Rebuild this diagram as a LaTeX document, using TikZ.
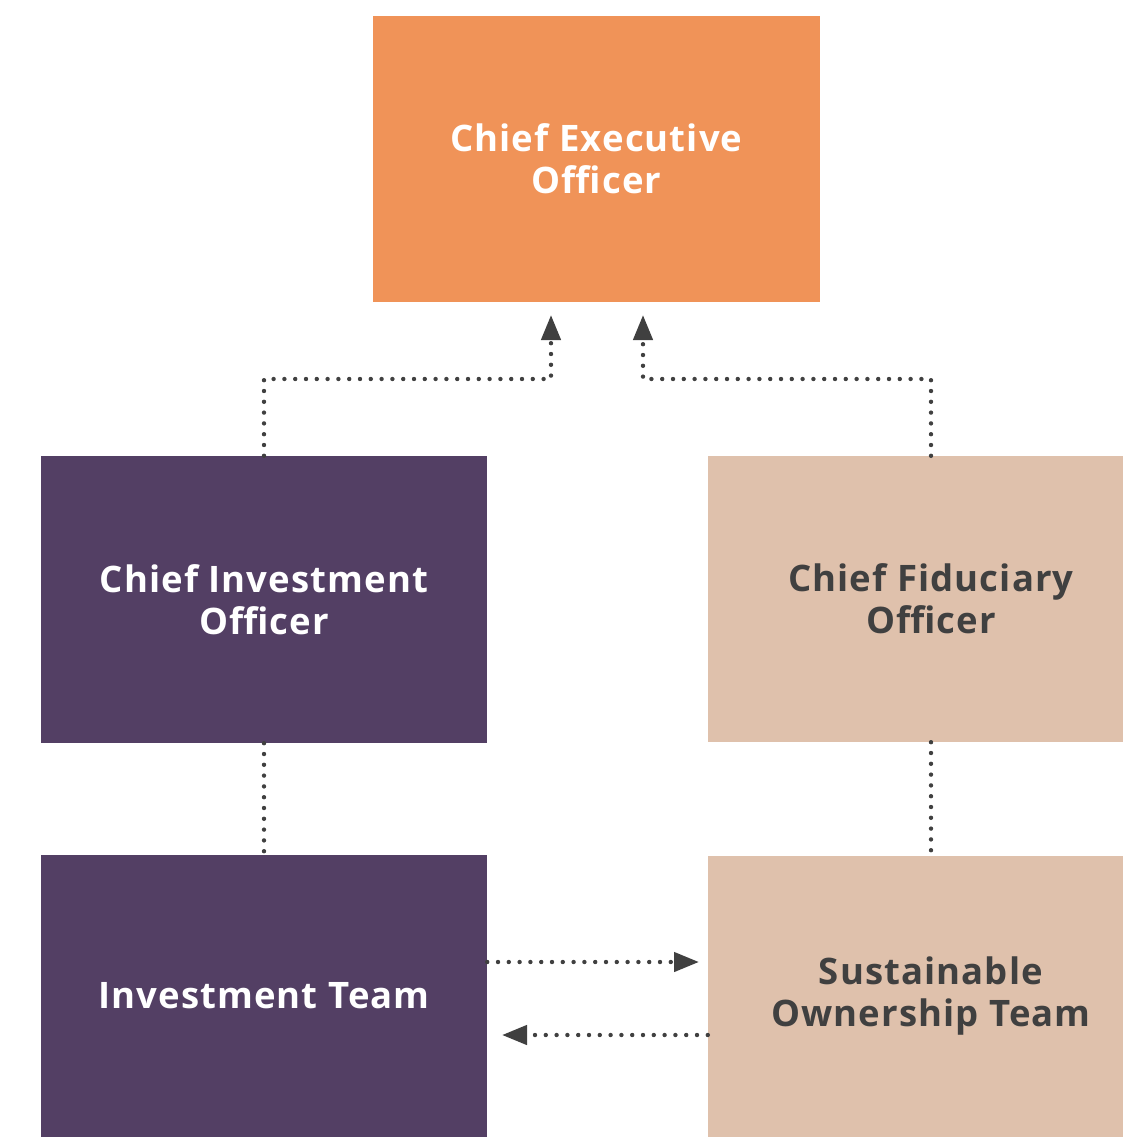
\documentclass[tikz,border=0pt]{standalone}
\usepackage{fontspec}
\setmainfont{Open Sans}[LetterSpace=3]
\usetikzlibrary{arrows.meta}
\definecolor{ceoC}{HTML}{F09358}
\definecolor{purC}{HTML}{533F64}
\definecolor{begC}{HTML}{DFC1AC}
\definecolor{txtD}{HTML}{404040}
\definecolor{lnC}{HTML}{404040}
\tikzset{
  box/.style={draw=none, inner sep=0pt, align=center, font=\fontsize{36.5}{42}\selectfont\bfseries, execute at begin node={\vspace*{7pt}}},
  darkbox/.style={box, fill=purC, text=white},
  lightbox/.style={box, fill=begC, text=txtD},
  conn/.style={draw=lnC, line width=4.4pt, line cap=round, dash pattern=on 0pt off 10.8pt},
  tip/.style={-{Triangle[length=25pt,width=19pt]}},
}
\begin{document}
\begin{tikzpicture}[x=1pt,y=-1pt]
\useasboundingbox (0,0) rectangle (1123,1137);
\node[box, fill=ceoC, text=white, minimum width=447pt, minimum height=286pt] (ceo) at (596.5,159) {Chief Executive\\Officer};
\node[darkbox, minimum width=446pt, minimum height=287pt] (cio) at (264,599.5) {Chief Investment\\Officer};
\node[lightbox, minimum width=446pt, minimum height=286pt] (cfo) at (931,599) {Chief Fiduciary\\Officer};
\node[darkbox, minimum width=446pt, minimum height=282pt] (it) at (264,996) {Investment Team};
\node[lightbox, minimum width=446pt, minimum height=281pt] (sot) at (931,996.5) {Sustainable\\Ownership Team};
\coordinate (t1) at (551,315);
\coordinate (t2) at (643,315);
\coordinate (t3) at (699,962);
\coordinate (t4) at (502,1035);
\draw[conn, tip] (cio.north) -- (cio.north |- 0,379) -| (t1);
\draw[conn, tip] (cfo.north) -- (cfo.north |- 0,379) -| (t2);
\draw[conn] (cio.south) -- (it.north);
\draw[conn] (cfo.south) -- (sot.north);
\draw[conn, tip] (it.east |- t3) -- (t3);
\draw[conn, tip] (sot.west |- t4) -- (t4);
\end{tikzpicture}
\end{document}
